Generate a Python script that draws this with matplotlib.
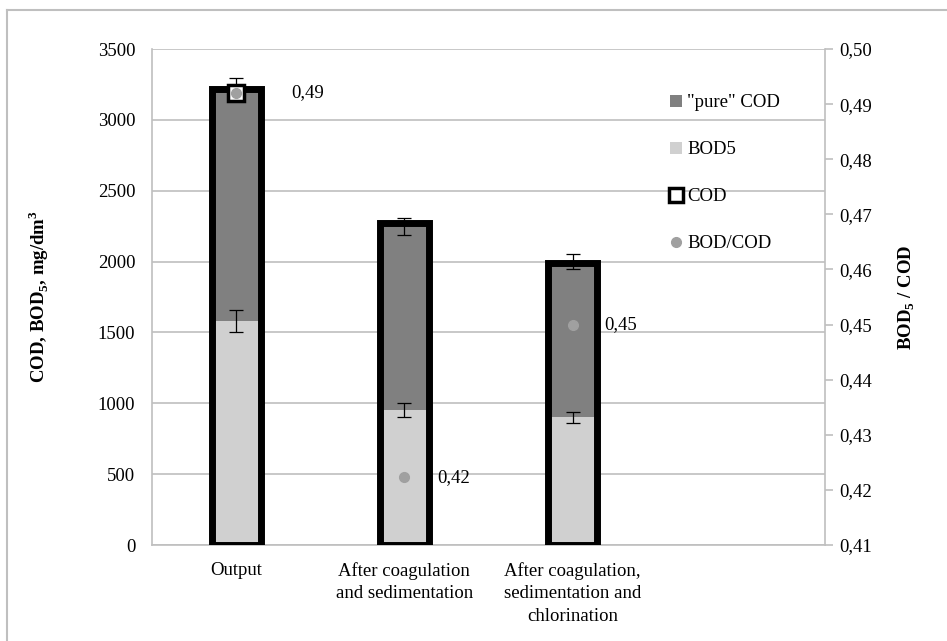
import numpy as np
import matplotlib.pyplot as plt
from matplotlib.patches import Patch
from matplotlib.lines import Line2D

plt.rcParams['font.family'] = ['Liberation Serif', 'DejaVu Serif']
plt.rcParams['font.size'] = 13.5
plt.rcParams['mathtext.fontset'] = 'custom'
plt.rcParams['mathtext.rm'] = 'Liberation Serif:bold'
plt.rcParams['mathtext.bf'] = 'Liberation Serif:bold'

# data
categories = ["Output", "After coagulation\nand sedimentation",
              "After coagulation,\nsedimentation and\nchlorination"]
bod5 = [1580, 950, 900]
bod5_err = [80, 50, 40]
pure_cod = [1635, 1300, 1100]
pure_err = [80, 60, 50]
cod = [3215, 2275, 1990]
ratio = [0.492, 0.4223, 0.450]
ratio_txt = ["0,49", "0,42", "0,45"]

grid_c = '#bfbfbf'
light = '#d0d0d0'
dark = '#808080'
w = 0.29

fig = plt.figure(figsize=(9.47, 6.41), dpi=100)
ax = fig.add_axes([152/947, 1-545/641, (825-152)/947, (545-49)/641])
ax2 = ax.twinx()

x = np.arange(len(categories))
ax.bar(x, bod5, w, color=light, zorder=2)
ax.bar(x, pure_cod, w, bottom=bod5, color=dark, zorder=2)
ax.errorbar(x, bod5, yerr=bod5_err, fmt='none', ecolor='black', elinewidth=0.9, capsize=5, capthick=0.9, zorder=4)
top = np.array(bod5) + np.array(pure_cod)
ax.errorbar(x, top, yerr=pure_err, fmt='none', ecolor='black', elinewidth=0.9, capsize=5, capthick=0.9, zorder=4)
ax.bar(x, cod, w, facecolor='none', edgecolor='black', linewidth=5, zorder=3)

ax.set_xlim(-0.5, 3.5)
ax.set_ylim(0, 3500)
ax.set_yticks(np.arange(0, 3501, 500))
ax.yaxis.grid(True, color=grid_c, linewidth=1.2)
ax.set_axisbelow(True)
ax.set_xticks(x)
ax.set_xticklabels(categories, linespacing=1.45)
ax.tick_params(axis='x', length=0, pad=12)
ax.tick_params(axis='y', length=0, pad=12)
for s in ['top', 'right']:
    ax.spines[s].set_visible(False)
for s in ['left', 'bottom']:
    ax.spines[s].set_color(grid_c)
    ax.spines[s].set_linewidth(1.2)
ax.set_ylabel(r"COD, BOD$_5$, mg/dm$^3$", fontweight='bold', labelpad=34)

ax2.set_ylim(0.41, 0.50)
ax2.set_yticks(np.round(np.arange(0.41, 0.5001, 0.01), 2))
ax2.set_yticklabels([("%.2f" % v).replace('.', ',') for v in np.arange(0.41, 0.5001, 0.01)])
ax2.tick_params(axis='y', length=6, color=grid_c, width=1.2, pad=4)
for s in ['top', 'left', 'bottom']:
    ax2.spines[s].set_visible(False)
ax2.spines['right'].set_color(grid_c)
ax2.spines['right'].set_linewidth(1.2)
ax2.set_ylabel(r"BOD$_5$ / COD", fontweight='bold', labelpad=18)

ax2.plot(x[:1], ratio[:1], 's', ms=11, mfc='white', mec='black', mew=2.5, zorder=5)
ax2.plot(x, ratio, 'o', ms=7, color='#a0a0a0', ls='none', zorder=6)
offs = [55, 33, 32]
for xi, r, t, o in zip(x, ratio, ratio_txt, offs):
    ax2.annotate(t, (xi, r), xytext=(o, 0), textcoords='offset pixels', va='center', ha='left', fontsize=13.5)

handles = [Patch(facecolor=dark, edgecolor='none'),
           Patch(facecolor=light, edgecolor='none'),
           Line2D([], [], marker='s', ls='none', ms=10, mfc='white', mec='black', mew=2.5),
           Line2D([], [], marker='o', ls='none', ms=7, color='#a0a0a0')]
labels = ['"pure" COD', 'BOD5', 'COD', 'BOD/COD']
fig.legend(handles, labels, loc='upper left', bbox_to_anchor=(661/947, 1-85/641),
           frameon=False, labelspacing=1.6, handlelength=0.6, handleheight=0.6,
           handletextpad=0.3, borderpad=0, fontsize=13.5)

# outer frame
fig.add_artist(Line2D([7/947, 1], [1-10/641]*2, color=grid_c, lw=1.5, transform=fig.transFigure))
fig.add_artist(Line2D([7/947]*2, [0, 1-10/641], color=grid_c, lw=1.5, transform=fig.transFigure))

fig.savefig('out.png', dpi=100)
